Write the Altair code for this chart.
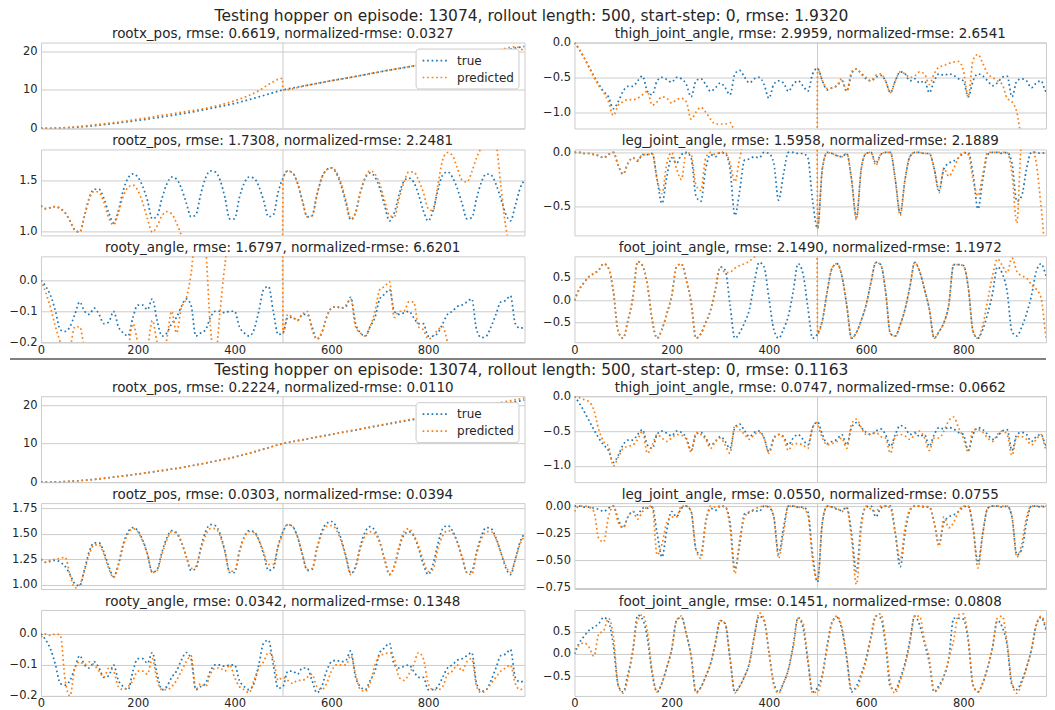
import altair as alt
import pandas as pd

BLUE = "#1f77b4"
ORANGE = "#ff7f0e"
FONT = "DejaVu Sans"
TXT = "#262626"

# ---------------- x grids ----------------
X_TRUE = list(range(0, 1000, 10)) + [999]
X_PRED = list(range(0, 500, 10)) + [499] + list(range(500, 1000, 10)) + [999]
X_ROOTX = [0, 50, 100, 150, 200, 250, 300, 350, 400, 450, 500,
           550, 600, 650, 700, 750, 800, 850, 900, 950, 999]
X_ROOTX_PRED1 = [0, 50, 100, 150, 200, 250, 300, 350, 400, 450, 475, 499, 500,
                 550, 600, 650, 700, 750, 800, 850, 900, 950, 980, 999]

# ---------------- true series (shared by both figures) ----------------
ROOTX_TRUE = [0.0, 0.15, 0.6, 1.3, 2.1, 3.0, 4.0, 5.2, 6.5, 8.2, 10.0,
              11.2, 12.4, 13.5, 14.7, 15.8, 16.9, 18.0, 19.1, 20.2, 21.3]

THIGH_TRUE = [
    0.0, -0.10, -0.22, -0.35, -0.48, -0.60, -0.70, -0.78, -0.95, -0.85,
    -0.70, -0.63, -0.63, -0.55, -0.48, -0.70, -0.75, -0.55, -0.50, -0.53,
    -0.57, -0.50, -0.52, -0.60, -0.78, -0.55, -0.52, -0.60, -0.70, -0.65,
    -0.58, -0.65, -0.75, -0.45, -0.40, -0.50, -0.58, -0.52, -0.50, -0.60,
    -0.80, -0.60, -0.55, -0.58, -0.70, -0.60, -0.55, -0.62, -0.70, -0.45,
    -0.37, -0.55, -0.68, -0.65, -0.62, -0.55, -0.70, -0.45, -0.38, -0.45,
    -0.52, -0.55, -0.50, -0.47, -0.55, -0.72, -0.55, -0.42, -0.45, -0.55,
    -0.52, -0.58, -0.55, -0.72, -0.55, -0.45, -0.47, -0.45, -0.47, -0.52,
    -0.55, -0.78, -0.55, -0.45, -0.48, -0.55, -0.62, -0.58, -0.50, -0.48,
    -0.78, -0.55, -0.52, -0.55, -0.65, -0.58, -0.55, -0.70, -0.50, -0.38,
    -0.35]

ROOTZ_TRUE = [
    1.25, 1.22, 1.23, 1.24, 1.22, 1.18, 1.10, 1.01, 0.99, 1.15,
    1.33, 1.41, 1.41, 1.32, 1.18, 1.08, 1.20, 1.40, 1.52, 1.56,
    1.53, 1.44, 1.30, 1.12, 1.15, 1.32, 1.46, 1.53, 1.51, 1.42,
    1.28, 1.14, 1.16, 1.36, 1.52, 1.59, 1.58, 1.50, 1.33, 1.12,
    1.12, 1.33, 1.47, 1.53, 1.52, 1.44, 1.30, 1.14, 1.16, 1.38,
    1.52, 1.59, 1.57, 1.47, 1.30, 1.14, 1.15, 1.35, 1.52, 1.60,
    1.62, 1.57, 1.45, 1.28, 1.11, 1.18, 1.38, 1.52, 1.57, 1.53,
    1.42, 1.25, 1.10, 1.18, 1.36, 1.49, 1.52, 1.48, 1.36, 1.20,
    1.10, 1.20, 1.40, 1.55, 1.58, 1.53, 1.42, 1.27, 1.12, 1.13,
    1.32, 1.48, 1.56, 1.55, 1.46, 1.32, 1.17, 1.10, 1.25, 1.42,
    1.50]

LEG_TRUE = [
    0.0, 0.0, -0.01, -0.01, -0.02, -0.03, -0.05, -0.02, 0.0, -0.12,
    -0.20, -0.10, -0.05, -0.08, -0.02, -0.02, -0.01, -0.25, -0.47, -0.22,
    -0.05, -0.10, -0.02, 0.0, -0.05, -0.40, -0.45, -0.15, -0.02, -0.04,
    0.0, -0.01, -0.15, -0.58, -0.35, -0.07, -0.06, -0.04, -0.05, 0.0,
    -0.01, -0.10, -0.44, -0.20, 0.0, 0.0, -0.01, -0.01, -0.05, -0.45,
    -0.70, -0.15, 0.0, -0.01, -0.03, -0.04, -0.01, -0.25, -0.60, -0.15,
    -0.01, 0.0, -0.10, -0.02, 0.0, 0.0, -0.25, -0.56, -0.25, -0.04,
    0.0, 0.0, -0.01, -0.01, -0.15, -0.35, -0.15, -0.10, -0.08, -0.05,
    -0.01, 0.0, -0.20, -0.52, -0.25, -0.02, 0.0, 0.0, -0.01, 0.0,
    -0.10, -0.45, -0.40, -0.15, 0.0, 0.0, -0.01, 0.0, -0.02, -0.35,
    -0.62]

ROOTY_TRUE = [
    0.0, -0.02, -0.05, -0.10, -0.16, -0.165, -0.15, -0.11, -0.07, -0.10,
    -0.11, -0.09, -0.11, -0.14, -0.135, -0.10, -0.15, -0.17, -0.18, -0.12,
    -0.08, -0.08, -0.095, -0.06, -0.13, -0.18, -0.17, -0.14, -0.12, -0.085,
    -0.06, -0.08, -0.18, -0.17, -0.16, -0.12, -0.10, -0.10, -0.105, -0.10,
    -0.10, -0.15, -0.17, -0.18, -0.16, -0.10, -0.03, -0.02, -0.10, -0.175,
    -0.17, -0.12, -0.12, -0.13, -0.11, -0.11, -0.15, -0.19, -0.17, -0.12,
    -0.09, -0.085, -0.09, -0.085, -0.055, -0.14, -0.17, -0.18, -0.15, -0.12,
    -0.06, -0.045, -0.03, -0.10, -0.11, -0.105, -0.10, -0.12, -0.14, -0.14,
    -0.18, -0.18, -0.17, -0.14, -0.11, -0.10, -0.085, -0.08, -0.07, -0.06,
    -0.16, -0.185, -0.18, -0.15, -0.11, -0.07, -0.065, -0.05, -0.14, -0.155,
    -0.15]

FOOT_TRUE = [
    0.0, 0.25, 0.40, 0.53, 0.60, 0.68, 0.82, 0.72, 0.20, -0.70,
    -0.85, -0.45, 0.05, 0.87, 0.78, 0.35, -0.45, -0.85, -0.65, -0.30,
    0.10, 0.75, 0.82, 0.45, -0.05, -0.85, -0.75, -0.50, -0.22, 0.25,
    0.75, 0.68, -0.10, -0.85, -0.72, -0.50, -0.20, 0.40, 0.85, 0.75,
    0.05, -0.65, -0.85, -0.65, -0.35, 0.20, 0.82, 0.60, -0.15, -0.85,
    -0.75, -0.45, 0.20, 0.72, 0.82, 0.55, -0.10, -0.85, -0.72, -0.45,
    -0.10, 0.40, 0.85, 0.80, 0.20, -0.75, -0.80, -0.55, -0.20, 0.30,
    0.85, 0.65, 0.25, -0.20, -0.85, -0.70, -0.50, -0.10, 0.80, 0.80,
    0.78, 0.30, -0.70, -0.85, -0.65, -0.30, 0.15, 0.75, 0.60, 0.20,
    -0.70, -0.80, -0.60, -0.30, 0.10, 0.65, 0.82, 0.55, 0.20, -0.80,
    -0.82]

# ---------------- predicted series, figure 1 ----------------
ROOTX_PRED1 = [0.0, 0.2, 0.8, 1.5, 2.4, 3.4, 4.4, 5.5, 7.2, 9.8, 11.8, 13.0, 10.0,
               11.2, 12.4, 13.5, 14.7, 15.8, 16.9, 18.1, 19.3, 20.5, 21.2, 20.0]

THIGH_PRED1 = [
    0.0, -0.10, -0.22, -0.36, -0.50, -0.62, -0.72, -0.85, -1.05, -0.90,
    -0.85, -0.82, -0.82, -0.80, -0.75, -0.70, -0.90, -0.85, -0.78, -0.80,
    -0.87, -0.82, -0.80, -0.85, -1.10, -1.00, -0.93, -1.00, -1.10, -1.17,
    -1.17, -1.17, -1.15, -1.30, -1.45, -1.50, -1.50, -1.50, -1.50, -1.50,
    -1.50, -1.50, -1.50, -1.50, -1.50, -1.50, -1.50, -1.50, -1.50, -1.50,
    -1.50,
    -0.37, -0.55, -0.66, -0.65, -0.62, -0.52, -0.70, -0.42, -0.38, -0.44,
    -0.50, -0.55, -0.47, -0.45, -0.55, -0.72, -0.55, -0.42, -0.45, -0.50,
    -0.48, -0.42, -0.45, -0.60, -0.45, -0.35, -0.33, -0.30, -0.28, -0.27,
    -0.40, -0.78, -0.25, -0.17, -0.30, -0.45, -0.50, -0.55, -0.60, -0.80,
    -0.85, -1.00, -1.40, -1.60, -1.60, -1.60, -1.60, -1.60, -1.60, -1.60,
    -1.60]

ROOTZ_PRED1 = [
    1.25, 1.22, 1.23, 1.24, 1.22, 1.18, 1.10, 1.01, 0.99, 1.15,
    1.32, 1.39, 1.38, 1.28, 1.13, 1.06, 1.18, 1.34, 1.43, 1.45,
    1.40, 1.28, 1.12, 0.99, 1.05, 1.15, 1.19, 1.17, 1.08, 0.96,
    0.85, 0.80, 0.80, 0.80, 0.80, 0.80, 0.80, 0.80, 0.80, 0.80,
    0.80, 0.80, 0.80, 0.80, 0.80, 0.80, 0.80, 0.80, 0.80, 0.80,
    0.80,
    1.52, 1.59, 1.57, 1.47, 1.30, 1.14, 1.15, 1.35, 1.52, 1.60,
    1.62, 1.58, 1.47, 1.30, 1.12, 1.18, 1.38, 1.53, 1.59, 1.56,
    1.46, 1.30, 1.15, 1.14, 1.32, 1.48, 1.58, 1.58, 1.50, 1.38,
    1.22, 1.20, 1.45, 1.70, 1.77, 1.74, 1.62, 1.50, 1.48, 1.58,
    1.72, 1.82, 1.90, 1.90, 1.85, 1.45, 1.05, 0.85, 0.80, 0.80,
    0.80]

LEG_PRED1 = [
    0.0, 0.0, -0.01, -0.01, -0.02, -0.03, -0.05, -0.02, 0.0, -0.12,
    -0.20, -0.10, -0.05, -0.07, -0.02, -0.02, -0.01, -0.25, -0.38, -0.10,
    0.0, -0.15, -0.25, 0.0, -0.02, -0.30, -0.35, -0.05, 0.0, -0.02,
    0.0, 0.0, -0.10, -0.27, -0.05, 0.10, 0.10, 0.10, 0.10, 0.10,
    0.10, 0.10, 0.10, 0.10, 0.10, 0.10, 0.10, 0.10, 0.10, 0.10,
    0.10,
    -0.70, -0.15, 0.0, -0.01, -0.03, -0.04, -0.01, -0.25, -0.62, -0.15,
    -0.01, 0.0, -0.12, -0.02, 0.0, 0.0, -0.25, -0.58, -0.25, -0.04,
    0.0, 0.0, -0.01, -0.01, -0.15, -0.37, -0.15, -0.22, -0.15, -0.05,
    0.0, -0.02, -0.25, -0.40, -0.20, 0.0, 0.0, 0.0, 0.0, 0.0,
    -0.20, -0.65, 0.10, 0.10, 0.05, -0.10, -0.50, -0.90, -0.90, -0.90,
    -0.90]

ROOTY_PRED1 = [
    0.0, -0.04, -0.09, -0.15, -0.20, -0.25, -0.22, -0.15, -0.15, -0.22,
    -0.26, -0.26, -0.26, -0.26, -0.26, -0.26, -0.26, -0.26, -0.22, -0.14,
    -0.20, -0.25, -0.22, -0.13, -0.20, -0.25, -0.19, -0.10, -0.17, -0.09,
    -0.06, 0.02, 0.15, 0.15, 0.10, -0.15, -0.25, -0.10, 0.05, 0.15,
    0.15, 0.15, 0.15, 0.15, 0.15, 0.15, 0.15, 0.15, 0.15, 0.15,
    0.15,
    -0.17, -0.11, -0.12, -0.13, -0.11, -0.10, -0.16, -0.19, -0.17, -0.12,
    -0.09, -0.085, -0.09, -0.08, -0.06, -0.15, -0.17, -0.18, -0.15, -0.10,
    -0.03, -0.02, -0.005, -0.12, -0.10, -0.10, -0.07, -0.07, -0.15, -0.16,
    -0.19, -0.18, -0.16, -0.15, -0.20, -0.25, -0.25, -0.25, -0.25, -0.25,
    -0.25, -0.25, -0.25, -0.25, -0.25, -0.25, -0.25, -0.25, -0.25, -0.25,
    -0.25]

FOOT_PRED1 = [
    0.0, 0.25, 0.40, 0.53, 0.60, 0.68, 0.82, 0.72, 0.20, -0.70,
    -0.85, -0.45, 0.05, 0.87, 0.78, 0.35, -0.45, -0.85, -0.65, -0.30,
    0.10, 0.75, 0.82, 0.45, -0.05, -0.85, -0.75, -0.50, -0.22, 0.25,
    0.75, 0.62, 0.63, 0.72, 0.78, 0.82, 0.88, 0.97, 1.05, 1.10,
    1.10, 1.10, 1.10, 1.10, 1.10, 1.10, 1.10, 1.10, 1.10, 1.10,
    1.10,
    -0.75, -0.45, 0.20, 0.72, 0.82, 0.55, -0.10, -0.85, -0.72, -0.45,
    -0.10, 0.40, 0.85, 0.80, 0.20, -0.75, -0.80, -0.55, -0.20, 0.30,
    0.85, 0.65, 0.25, -0.20, -0.85, -0.70, -0.50, -0.10, 0.80, 0.80,
    0.78, 0.30, -0.70, -0.85, -0.55, 0.00, 0.55, 0.93, 0.78, 0.62,
    0.95, 0.65, 0.55, 0.50, 0.35, 0.25, 0.05, -0.80, -1.10, -1.10,
    -1.10]

# ---------------- predicted series, figure 2 ----------------
ROOTX_PRED2 = [0.0, 0.15, 0.6, 1.3, 2.1, 3.0, 4.0, 5.2, 6.5, 8.2, 10.0,
               11.2, 12.4, 13.6, 14.8, 16.0, 17.1, 18.3, 19.5, 20.7, 21.8]

THIGH_PRED2 = [
    0.0, -0.02, -0.05, -0.08, -0.20, -0.48, -0.65, -0.72, -1.00, -0.88,
    -0.75, -0.72, -0.70, -0.62, -0.50, -0.82, -0.70, -0.55, -0.60, -0.65,
    -0.60, -0.55, -0.56, -0.62, -0.80, -0.52, -0.55, -0.62, -0.75, -0.65,
    -0.60, -0.70, -0.82, -0.42, -0.48, -0.55, -0.62, -0.55, -0.52, -0.60,
    -0.82, -0.62, -0.55, -0.60, -0.78, -0.68, -0.68, -0.70, -0.75, -0.45,
    -0.38,
    -0.40, -0.60, -0.70, -0.68, -0.65, -0.60, -0.75, -0.40, -0.33, -0.45,
    -0.55, -0.55, -0.52, -0.58, -0.60, -0.82, -0.58, -0.55, -0.57, -0.62,
    -0.55, -0.50, -0.60, -0.78, -0.60, -0.60, -0.50, -0.35, -0.30, -0.45,
    -0.60, -0.80, -0.48, -0.48, -0.52, -0.60, -0.65, -0.55, -0.50, -0.55,
    -0.85, -0.58, -0.58, -0.62, -0.70, -0.62, -0.55, -0.75, -0.50, -0.42,
    -0.38]

ROOTZ_PRED2 = [
    1.25, 1.22, 1.24, 1.25, 1.26, 1.27, 1.10, 0.97, 1.00, 1.14,
    1.30, 1.39, 1.39, 1.30, 1.16, 1.07, 1.19, 1.38, 1.50, 1.55,
    1.52, 1.43, 1.30, 1.12, 1.14, 1.30, 1.44, 1.52, 1.50, 1.42,
    1.28, 1.16, 1.18, 1.34, 1.48, 1.55, 1.55, 1.48, 1.32, 1.13,
    1.14, 1.32, 1.46, 1.52, 1.51, 1.44, 1.32, 1.20, 1.20, 1.38,
    1.50,
    1.52, 1.59, 1.57, 1.47, 1.30, 1.15, 1.16, 1.35, 1.50, 1.57,
    1.58, 1.54, 1.43, 1.27, 1.10, 1.17, 1.36, 1.48, 1.52, 1.50,
    1.41, 1.25, 1.10, 1.18, 1.38, 1.52, 1.55, 1.49, 1.38, 1.24,
    1.13, 1.15, 1.35, 1.48, 1.53, 1.51, 1.42, 1.27, 1.12, 1.10,
    1.30, 1.45, 1.52, 1.52, 1.45, 1.32, 1.19, 1.12, 1.25, 1.40,
    1.48]

LEG_PRED2 = [
    -0.05, 0.0, 0.0, -0.01, -0.05, -0.30, -0.33, -0.10, 0.0, -0.15,
    -0.20, -0.10, -0.05, -0.12, -0.05, -0.01, 0.0, -0.45, -0.35, -0.15,
    -0.10, -0.10, 0.0, 0.0, -0.05, -0.40, -0.48, -0.15, 0.0, -0.01,
    0.0, 0.0, -0.20, -0.62, -0.30, -0.10, -0.05, -0.03, -0.01, 0.0,
    0.0, -0.10, -0.48, -0.25, 0.0, 0.0, -0.01, -0.02, -0.08, -0.50,
    -0.68,
    -0.68, -0.15, 0.0, -0.01, -0.02, -0.05, -0.02, -0.30, -0.72, -0.20,
    0.0, -0.03, -0.05, 0.0, 0.0, -0.02, -0.25, -0.50, -0.20, -0.03,
    0.0, 0.0, 0.0, -0.01, -0.15, -0.37, -0.10, -0.20, -0.15, -0.05,
    0.0, 0.0, -0.20, -0.57, -0.25, -0.02, 0.0, 0.0, 0.0, 0.0,
    -0.10, -0.47, -0.35, -0.10, 0.0, 0.0, 0.0, 0.0, -0.05, -0.35,
    -0.62]

ROOTY_PRED2 = [
    -0.01, 0.0, -0.005, 0.0, -0.005, -0.15, -0.20, -0.11, -0.09, -0.10,
    -0.09, -0.10, -0.12, -0.14, -0.11, -0.12, -0.17, -0.18, -0.17, -0.15,
    -0.12, -0.12, -0.13, -0.08, -0.15, -0.18, -0.18, -0.17, -0.15, -0.12,
    -0.09, -0.07, -0.18, -0.16, -0.17, -0.13, -0.11, -0.11, -0.12, -0.10,
    -0.14, -0.17, -0.18, -0.19, -0.15, -0.11, -0.09, -0.06, -0.08, -0.15,
    -0.14,
    -0.14, -0.15, -0.16, -0.15, -0.15, -0.14, -0.13, -0.17, -0.18, -0.16,
    -0.12, -0.10, -0.10, -0.10, -0.07, -0.13, -0.18, -0.185, -0.16, -0.10,
    -0.07, -0.065, -0.06, -0.08, -0.14, -0.15, -0.13, -0.10, -0.06, -0.08,
    -0.16, -0.18, -0.18, -0.17, -0.13, -0.12, -0.10, -0.12, -0.09, -0.08,
    -0.17, -0.19, -0.18, -0.16, -0.14, -0.12, -0.11, -0.10, -0.16, -0.18,
    -0.17]

FOOT_PRED2 = [
    0.10, 0.20, 0.25, 0.15, -0.05, 0.45, 0.52, 0.80, 0.40, -0.70,
    -0.88, -0.55, 0.10, 0.75, 0.88, 0.50, -0.40, -0.85, -0.65, -0.30,
    0.10, 0.75, 0.85, 0.45, -0.05, -0.88, -0.75, -0.50, -0.22, 0.25,
    0.75, 0.68, -0.10, -0.87, -0.72, -0.50, -0.20, 0.40, 0.92, 0.78,
    0.05, -0.70, -0.88, -0.65, -0.35, 0.15, 0.80, 0.70, -0.10, -0.88,
    -0.85,
    -0.85, -0.50, 0.15, 0.70, 0.85, 0.60, -0.05, -0.80, -0.78, -0.50,
    -0.15, 0.35, 0.85, 0.90, 0.30, -0.65, -0.88, -0.60, -0.25, 0.25,
    0.85, 0.85, 0.30, -0.10, -0.85, -0.75, -0.50, -0.10, 0.30, 0.88,
    0.90, 0.35, -0.70, -0.85, -0.65, -0.30, 0.15, 0.80, 0.85, 0.25,
    -0.65, -0.88, -0.65, -0.30, 0.10, 0.65, 0.85, 0.60, 0.20, -0.75,
    -0.85]

SUPTITLE1 = "Testing hopper on episode: 13074, rollout length: 500, start-step: 0, rmse: 1.9320"
SUPTITLE2 = "Testing hopper on episode: 13074, rollout length: 500, start-step: 0, rmse: 0.1163"
TITLES1 = ["rootx_pos, rmse: 0.6619, normalized-rmse: 0.0327",
           "thigh_joint_angle, rmse: 2.9959, normalized-rmse: 2.6541",
           "rootz_pos, rmse: 1.7308, normalized-rmse: 2.2481",
           "leg_joint_angle, rmse: 1.5958, normalized-rmse: 2.1889",
           "rooty_angle, rmse: 1.6797, normalized-rmse: 6.6201",
           "foot_joint_angle, rmse: 2.1490, normalized-rmse: 1.1972"]
TITLES2 = ["rootx_pos, rmse: 0.2224, normalized-rmse: 0.0110",
           "thigh_joint_angle, rmse: 0.0747, normalized-rmse: 0.0662",
           "rootz_pos, rmse: 0.0303, normalized-rmse: 0.0394",
           "leg_joint_angle, rmse: 0.0550, normalized-rmse: 0.0755",
           "rooty_angle, rmse: 0.0342, normalized-rmse: 0.1348",
           "foot_joint_angle, rmse: 0.1451, normalized-rmse: 0.0808"]

ROLLOUT_START = [500]
X_TICKS = [0, 200, 400, 600, 800]

LEFT_W = 484
RIGHT_W = 472
LEFT_XMAX = 999
RIGHT_XMAX = 970
PLOT_H = 86
DASH = [1.7, 2.8]
LW = 1.7


def panel(title, tx, ty, px, py, ydom, yticks, yfmt, xmax, width, bottom, legend):
    if len(tx) != len(ty) or len(px) != len(py):
        raise ValueError(f"length mismatch in {title}: {len(tx)} {len(ty)} {len(px)} {len(py)}")
    df = pd.DataFrame({
        "x": list(tx) + list(px),
        "y": list(ty) + list(py),
        "series": ["true"] * len(tx) + ["predicted"] * len(px),
    })
    xscale = alt.Scale(domain=[0, xmax], nice=False, zero=False)
    if bottom:
        xaxis = alt.Axis(values=X_TICKS, grid=False, labelFlush=False, title=None,
                         labelPadding=2)
        xenc = alt.X("x:Q", scale=xscale, axis=xaxis)
    else:
        xenc = alt.X("x:Q", scale=xscale, axis=None)
    yenc = alt.Y("y:Q", scale=alt.Scale(domain=ydom, nice=False, zero=False),
                 axis=alt.Axis(values=yticks, format=yfmt, title=None, grid=True))
    if legend:
        leg = alt.Legend(orient="top-right", title=None, symbolType="M-0.77,0H3.08",
                         symbolSize=169, symbolStrokeWidth=LW, symbolDash=DASH,
                         labelFont=FONT, labelFontSize=12, labelColor=TXT,
                         fillColor="white", strokeColor="#cccccc", cornerRadius=3,
                         padding=4.5, offset=6, rowPadding=3, labelOffset=22)
    else:
        leg = None
    color = alt.Color("series:N",
                      scale=alt.Scale(domain=["true", "predicted"], range=[BLUE, ORANGE]),
                      legend=leg)
    base = alt.Chart(df).encode(x=xenc, y=yenc, color=color)
    true_line = base.transform_filter(alt.datum.series == "true").mark_line(
        strokeWidth=LW, strokeDash=DASH, strokeCap="butt", clip=True, interpolate="monotone")
    pred_line = base.transform_filter(alt.datum.series == "predicted").mark_line(
        strokeWidth=LW, strokeDash=DASH, strokeCap="butt", clip=True, interpolate="monotone")
    rule = alt.Chart(pd.DataFrame({"x": ROLLOUT_START})).mark_rule(
        color="#cccccc", strokeWidth=1).encode(x=xenc)
    ttl = alt.Chart(pd.DataFrame({"t": [title]})).mark_text(
        font=FONT, fontSize=13.5, color=TXT, align="center", baseline="middle"
    ).encode(x=alt.value(width / 2), y=alt.value(-8.5), text="t:N")
    return alt.layer(rule, true_line, pred_line, ttl).properties(width=width, height=PLOT_H)


def header(text):
    return alt.Chart(pd.DataFrame({"t": [text]})).mark_text(
        font=FONT, fontSize=15.5, color=TXT, align="center", baseline="middle"
    ).encode(x=alt.value(491), y=alt.value(7), text="t:N").properties(
        width=10, height=1, view=alt.ViewBackground(stroke="transparent"))


def figure(suptitle, titles, preds, rootx_x_pred, leg_ticks, leg_fmt, rootz_ticks, rootz_fmt):
    rootx_p, thigh_p, rootz_p, leg_p, rooty_p, foot_p = preds
    panels = [
        panel(titles[0], X_ROOTX, ROOTX_TRUE, rootx_x_pred, rootx_p, [0, 22.3], [0, 10, 20], "d",
              LEFT_XMAX, LEFT_W, False, True),
        panel(titles[1], X_TRUE, THIGH_TRUE, X_PRED, thigh_p, [-1.234, 0.0], [-1.0, -0.5, 0.0], ".1f",
              RIGHT_XMAX, RIGHT_W, False, False),
        panel(titles[2], X_TRUE, ROOTZ_TRUE, X_PRED, rootz_p, [0.958, 1.80], rootz_ticks, rootz_fmt,
              LEFT_XMAX, LEFT_W, False, False),
        panel(titles[3], X_TRUE, LEG_TRUE, X_PRED, leg_p, [-0.763, 0.027], leg_ticks, leg_fmt,
              RIGHT_XMAX, RIGHT_W, False, False),
        panel(titles[4], X_TRUE, ROOTY_TRUE, X_PRED, rooty_p, [-0.2, 0.077], [-0.2, -0.1, 0.0], ".1f",
              LEFT_XMAX, LEFT_W, True, False),
        panel(titles[5], X_TRUE, FOOT_TRUE, X_PRED, foot_p, [-0.94, 0.985], [-0.5, 0.0, 0.5], ".1f",
              RIGHT_XMAX, RIGHT_W, True, False),
    ]
    grid = alt.concat(*panels, columns=2, bounds="flush",
                      spacing={"row": 21, "column": 50}
                      ).resolve_scale(color="independent").resolve_legend(color="independent")
    return alt.vconcat(header(suptitle), grid, spacing=1.25).resolve_scale(
        color="independent").resolve_legend(color="independent")


fig1 = figure(SUPTITLE1, TITLES1,
              [ROOTX_PRED1, THIGH_PRED1, ROOTZ_PRED1, LEG_PRED1, ROOTY_PRED1, FOOT_PRED1],
              X_ROOTX_PRED1, [-0.5, 0.0], ".1f", [1.0, 1.5], ".1f")
fig2 = figure(SUPTITLE2, TITLES2,
              [ROOTX_PRED2, THIGH_PRED2, ROOTZ_PRED2, LEG_PRED2, ROOTY_PRED2, FOOT_PRED2],
              X_ROOTX, [-0.75, -0.5, -0.25, 0.0], ".2f", [1.0, 1.25, 1.5, 1.75], ".2f")

# separator line between the two figures (origin is aligned with the plot areas)
sep = alt.Chart(pd.DataFrame({"a": [0]})).mark_rule(color="black", strokeWidth=1).encode(
    x=alt.value(-31), x2=alt.value(1006), y=alt.value(0)
).properties(width=900, height=1, view=alt.ViewBackground(stroke="transparent"))

chart = alt.vconcat(fig1, sep, fig2, spacing=1).resolve_scale(
    color="independent").resolve_legend(color="independent").properties(
    padding={"left": 0, "top": 0, "right": 0, "bottom": 0}, background="white"
).configure_axis(
    labelFont=FONT, labelFontSize=11.5, labelColor=TXT, ticks=False, domain=False,
    gridColor="#cccccc", gridWidth=1, labelPadding=4
).configure_view(stroke="#cccccc", strokeWidth=1)

chart.save("out.html", embed_options={"renderer": "svg", "actions": False})
